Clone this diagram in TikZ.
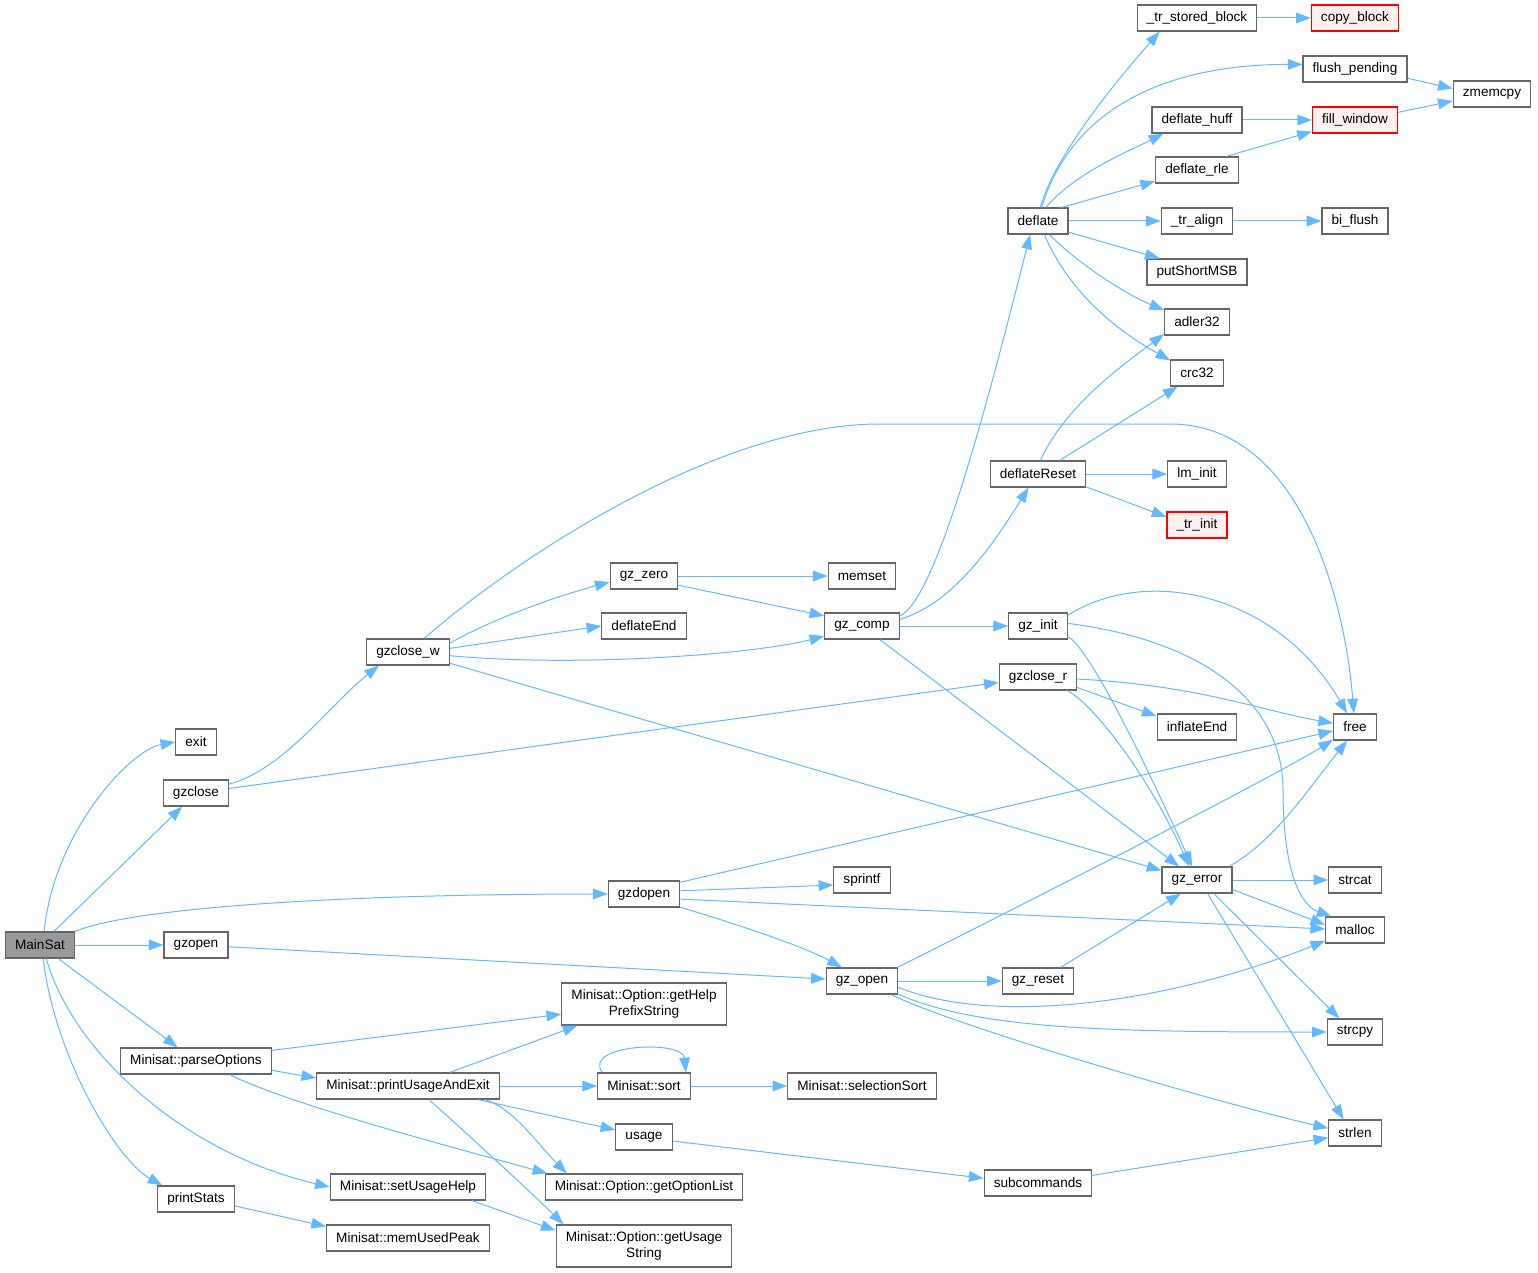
\documentclass[tikz,border=0pt]{standalone}
\usepackage{fontspec}
\setmainfont{Liberation Sans}
\usetikzlibrary{arrows.meta}
\definecolor{callblue}{HTML}{63B8FF}
\definecolor{boxgray}{HTML}{666666}
\definecolor{maingray}{HTML}{999999}
\definecolor{boxred}{HTML}{FF0000}
\definecolor{redfill}{HTML}{FFF0F0}
\tikzset{
	fn/.style={draw=boxgray,fill=white,line width=0.9pt,minimum height=19.5pt,inner xsep=7.2pt,inner ysep=1pt,font=\fontsize{10.2}{12}\selectfont,align=center},
	fntwo/.style={fn,minimum height=31.5pt},
	fnmain/.style={fn,fill=maingray},
	fnred/.style={fn,draw=boxred,fill=redfill},
	call/.style={draw=callblue,line width=0.75pt,-{Triangle[length=11pt,width=8pt]}}
}
\begin{document}
\begin{tikzpicture}[x=0.75pt,y=-0.75pt]
		\useasboundingbox (0,0) rectangle (1538,1273);
		\node[fnmain] (mainsat) at (40,945) {MainSat};
		\node[fn] (exit) at (196,742) {exit};
		\node[fn] (gzclose) at (196,793) {gzclose};
		\node[fn] (gzopen) at (196,945) {gzopen};
		\node[fn] (parseopts) at (196,1061) {Minisat::parseOptions};
		\node[fn] (printstats) at (196,1199) {printStats};
		\node[fn] (gzclosew) at (408,652) {gzclose\_w};
		\node[fn] (printusage) at (408,1086) {Minisat::printUsageAndExit};
		\node[fn] (setusagehelp) at (408,1187) {Minisat::setUsageHelp};
		\node[fn] (memusedpeak) at (408,1238) {Minisat::memUsedPeak};
		\node[fn] (gzzero) at (644,576) {gz\_zero};
		\node[fn] (deflateend) at (644,626) {deflateEnd};
		\node[fn] (gzdopen) at (644,894) {gzdopen};
		\node[fntwo] (gethelpprefix) at (644,1004) {Minisat::Option::getHelp\\PrefixString};
		\node[fn] (sort) at (644,1086) {Minisat::sort};
		\node[fn] (usage) at (644,1137) {usage};
		\node[fn] (getoptionlist) at (644,1187) {Minisat::Option::getOptionList};
		\node[fntwo] (getusagestr) at (644,1246) {Minisat::Option::getUsage\\String};
		\node[fn] (memset) at (862,576) {memset};
		\node[fn] (gzcomp) at (862,626) {gz\_comp};
		\node[fn] (sprintf) at (862,880) {sprintf};
		\node[fn] (gzopenint) at (862,981) {gz\_open};
		\node[fn] (selectionsort) at (862,1086) {Minisat::selectionSort};
		\node[fn] (deflate) at (1038,221) {deflate};
		\node[fn] (deflatereset) at (1038,474) {deflateReset};
		\node[fn] (gzinit) at (1038,626) {gz\_init};
		\node[fn] (gzcloser) at (1038,677) {gzclose\_r};
		\node[fn] (gzreset) at (1038,981) {gz\_reset};
		\node[fn] (subcommands) at (1038,1183) {subcommands};
		\node[fn] (trstoredblock) at (1197,18) {\_tr\_stored\_block};
		\node[fn] (deflatehuff) at (1197,120) {deflate\_huff};
		\node[fn] (deflaterle) at (1197,170) {deflate\_rle};
		\node[fn] (tralign) at (1197,221) {\_tr\_align};
		\node[fn] (putshortmsb) at (1197,272) {putShortMSB};
		\node[fn] (adler) at (1197,322) {adler32};
		\node[fn] (crc) at (1197,373) {crc32};
		\node[fn] (lminit) at (1197,474) {lm\_init};
		\node[fnred] (trinit) at (1197,525) {\_tr\_init};
		\node[fn] (inflateend) at (1197,727) {inflateEnd};
		\node[fn] (gzerror) at (1197,880) {gz\_error};
		\node[fnred] (copyblock) at (1355,18) {copy\_block};
		\node[fn] (flushpending) at (1355,69) {flush\_pending};
		\node[fnred] (fillwindow) at (1355,120) {fill\_window};
		\node[fn] (biflush) at (1355,221) {bi\_flush};
		\node[fn] (free) at (1355,727) {free};
		\node[fn] (strcat) at (1355,880) {strcat};
		\node[fn] (malloc) at (1355,930) {malloc};
		\node[fn] (strcpy) at (1355,1032) {strcpy};
		\node[fn] (strlen) at (1355,1133) {strlen};
		\node[fn] (zmemcpy) at (1492,94) {zmemcpy};
		
		\draw[call] (mainsat.73) .. controls +(10,-100) and +(-45,8) .. (exit.west);
		\draw[call] (mainsat) -- (gzclose);
		\draw[call] (mainsat.north east) .. controls +(60,-25) and +(-250,0) .. (gzdopen.west);
		\draw[call] (mainsat) -- (gzopen);
		\draw[call] (mainsat) -- (parseopts);
		\draw[call] (mainsat.-65) .. controls +(25,90) and +(-150,-35) .. (setusagehelp.west);
		\draw[call] (mainsat.-77) .. controls +(12,100) and +(-45,-25) .. (printstats.158);
		\draw[call] (gzclose.15) .. controls +(55,-15) and +(-50,40) .. (gzclosew.205);
		\draw[call] (gzclose) -- (gzcloser);
		\draw[call] (gzclosew.40) .. controls (520,555) and (720,424) .. (880,424) -- (1170,424) .. controls (1300,424) and (1345,600) .. (free.95);
		\draw[call] (gzclosew.12) .. controls +(50,-28) and +(-45,12) .. (gzzero.190);
		\draw[call] (gzclosew.5) -- (deflateend.west);
		\draw[call] (gzclosew.-5) .. controls +(130,12) and +(-70,18) .. (gzcomp.195);
		\draw[call] (gzclosew.-15) -- (gzerror.165);
		\draw[call] (gzzero) -- (memset);
		\draw[call] (gzzero.-15) -- (gzcomp.165);
		\draw[call] (gzcomp.15) .. controls +(36,-16) and +(-45,178) .. (deflate.-120);
		\draw[call] (gzcomp.10) .. controls +(50,-15) and +(-40,65) .. (deflatereset.-125);
		\draw[call] (gzcomp) -- (gzinit);
		\draw[call] (gzcomp) -- (gzerror);
		\draw[call] (deflate.80) .. controls +(15,-55) and +(-35,40) .. (trstoredblock.-160);
		\draw[call] (deflate.75) .. controls +(28,-93) and +(-145,0) .. (flushpending.175);
		\draw[call] (deflate.60) .. controls +(30,-35) and +(-35,18) .. (deflatehuff.-158);
		\draw[call] (deflate.30) -- (deflaterle.195);
		\draw[call] (deflate) -- (tralign);
		\draw[call] (deflate.-20) -- (putshortmsb.160);
		\draw[call] (deflate.-50) .. controls +(35,35) and +(-30,-12) .. (adler.160);
		\draw[call] (deflate.-65) .. controls +(30,70) and +(-35,-20) .. (crc.155);
		\draw[call] (trstoredblock) -- (copyblock);
		\draw[call] (flushpending.-10) -- (zmemcpy.172);
		\draw[call] (deflatehuff) -- (fillwindow);
		\draw[call] (deflaterle.25) -- (fillwindow.-165);
		\draw[call] (fillwindow.10) -- (zmemcpy.-170);
		\draw[call] (tralign) -- (biflush);
		\draw[call] (deflatereset.80) .. controls +(25,-55) and +(-40,30) .. (adler.-160);
		\draw[call] (deflatereset.32) -- (crc.-145);
		\draw[call] (deflatereset) -- (lminit);
		\draw[call] (deflatereset.-15) -- (trinit.165);
		\draw[call] (gzinit.20) .. controls +(80,-50) and +(-70,-120) .. (free.120);
		\draw[call] (gzinit.-20) .. controls +(20,8) and +(-45,-100) .. (gzerror.110);
		\draw[call] (gzinit.5) .. controls (1200,640) and (1283,700) .. (1283,790) .. controls (1283,870) and (1300,905) .. (malloc.150);
		\draw[call] (gzcloser.-3) .. controls +(120,6) and +(-70,-12) .. (free.170);
		\draw[call] (gzcloser.-15) -- (inflateend.165);
		\draw[call] (gzcloser.-25) .. controls +(25,12) and +(-40,-90) .. (gzerror.120);
		\draw[call] (gzerror.23) .. controls +(45,-25) and +(-40,50) .. (free.-120);
		\draw[call] (gzerror) -- (strcat);
		\draw[call] (gzerror.-15) -- (malloc.170);
		\draw[call] (gzerror.-39) -- (strcpy.139);
		\draw[call] (gzerror.-52) -- (strlen.130);
		\draw[call] (gzdopen.18) -- (free.-170);
		\draw[call] (gzdopen.5) -- (sprintf.190);
		\draw[call] (gzdopen.-8) -- (malloc.178);
		\draw[call] (gzdopen.-20) .. controls +(50,15) and +(-40,-22) .. (gzopenint.146);
		\draw[call] (gzopen) -- (gzopenint);
		\draw[call] (gzopenint.21) .. controls +(100,-50) and +(-60,38) .. (free.-150);
		\draw[call] (gzopenint) -- (gzreset);
		\draw[call] (gzopenint.-10) .. controls +(100,40) and +(-150,60) .. (malloc.-160);
		\draw[call] (gzopenint.-20) .. controls +(80,35) and +(-220,0) .. (strcpy.west);
		\draw[call] (gzopenint.-25) .. controls +(60,30) and +(-120,-28) .. (strlen.170);
		\draw[call] (gzreset.31) -- (gzerror.-140);
		\draw[call] (parseopts.8) -- (gethelpprefix.187);
		\draw[call] (parseopts.-7) -- (printusage.175);
		\draw[call] (parseopts.-22) .. controls +(60,30) and +(-90,-25) .. (getoptionlist.172);
		\draw[call] (printusage.18) -- (gethelpprefix.-162);
		\draw[call] (printusage) -- (sort);
		\draw[call] (printusage.-11.5) -- (usage.166);
		\draw[call] (printusage.-10.5) .. controls +(30,10) and +(-30,-30) .. (getoptionlist.170.5);
		\draw[call] (printusage.-33) .. controls +(45,40) and +(-25,-25) .. (getusagestr.165);
		\draw[call] (sort.162) .. controls +(-20,-28) and +(-3,-33) .. (sort.18);
		\draw[call] (sort) -- (selectionsort);
		\draw[call] (usage.-8) -- (subcommands.175);
		\draw[call] (subcommands.8) -- (strlen.-170);
		\draw[call] (printstats.-10) -- (memusedpeak.172);
		\draw[call] (setusagehelp.-12.8) -- (getusagestr.170);
\end{tikzpicture}
\end{document}
